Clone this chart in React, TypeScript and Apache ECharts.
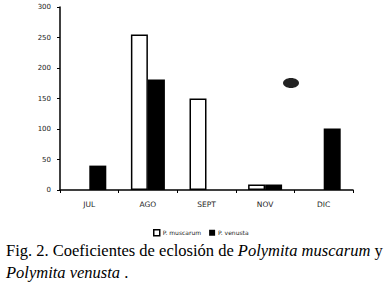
import React, { useEffect, useRef } from "react";
import * as echarts from "echarts";

const months = ["JUL", "AGO", "SEPT", "NOV", "DIC"];
const muscarum = [null, 255, 150, 9, null];
const venusta = [40, 181, null, 9, 101];
const yTicks = [0, 50, 100, 150, 200, 250, 300];

export default function App() {
  const ref = useRef<HTMLDivElement>(null);
  useEffect(() => {
    const chart = echarts.init(ref.current!, null, { renderer: "svg" });
    const axisFont = { fontFamily: "DejaVu Sans", fontSize: 7, color: "#222" };
    const cap = { fontFamily: "Liberation Serif", fontSize: 16.5, fill: "#000" };
    chart.setOption({
      animation: false,
      backgroundColor: "#fff",
      grid: { left: 60, right: 37, top: 7, bottom: 96, containLabel: false },
      legend: {
        data: [
          { name: "P. muscarum", itemStyle: { color: "#fff", borderColor: "#000", borderWidth: 1.5 } },
          { name: "P. venusta", itemStyle: { color: "#000" } },
        ],
        left: 148,
        top: 224,
        itemWidth: 6,
        itemHeight: 6,
        itemGap: 8,
        icon: "rect",
        textStyle: { fontFamily: "DejaVu Sans", fontSize: 6, color: "#222", padding: [0, 0, 0, -2] },
      },
      xAxis: {
        type: "category",
        data: months,
        axisLine: { lineStyle: { color: "#000", width: 1.5 } },
        axisTick: { show: true, length: 3, lineStyle: { color: "#000", width: 1 } },
        axisLabel: { ...axisFont, fontSize: 7.5, margin: 10 },
      },
      yAxis: {
        type: "value",
        min: 0,
        max: 300,
        interval: 50,
        splitLine: { show: false },
        axisLine: { show: true, lineStyle: { color: "#000", width: 1.5 } },
        axisTick: { show: true, length: 3, lineStyle: { color: "#000", width: 1 } },
        axisLabel: {
          ...axisFont,
          margin: 9,
          formatter: (v: number) => (yTicks.includes(v) ? String(v) : ""),
        },
      },
      series: [
        {
          name: "P. muscarum",
          type: "bar",
          data: muscarum,
          barWidth: 17,
          barGap: "0%",
          itemStyle: { color: "#fff", borderColor: "#000", borderWidth: 1.5 },
        },
        {
          name: "P. venusta",
          type: "bar",
          data: venusta,
          barWidth: 17,
          barGap: "0%",
          itemStyle: { color: "#000" },
        },
      ],
      graphic: [
        {
          type: "ellipse",
          shape: { cx: 291, cy: 83, rx: 8, ry: 5 },
          style: { fill: "#222" },
        },
        {
          type: "text",
          left: 6,
          top: 242,
          style: {
            text: "Fig. 2. Coeficientes de eclosión de {i|Polymita muscarum} y",
            ...cap,
            rich: { i: { ...cap, fontStyle: "italic" } },
          },
        },
        {
          type: "text",
          left: 6,
          top: 264,
          style: {
            text: "{i|Polymita venusta} .",
            ...cap,
            rich: { i: { ...cap, fontStyle: "italic" } },
          },
        },
      ],
    });
    return () => chart.dispose();
  }, []);
  return (
    <div
      ref={ref}
      style={{ position: "fixed", left: 0, top: 0, width: 390, height: 286, background: "#fff" }}
    />
  );
}
